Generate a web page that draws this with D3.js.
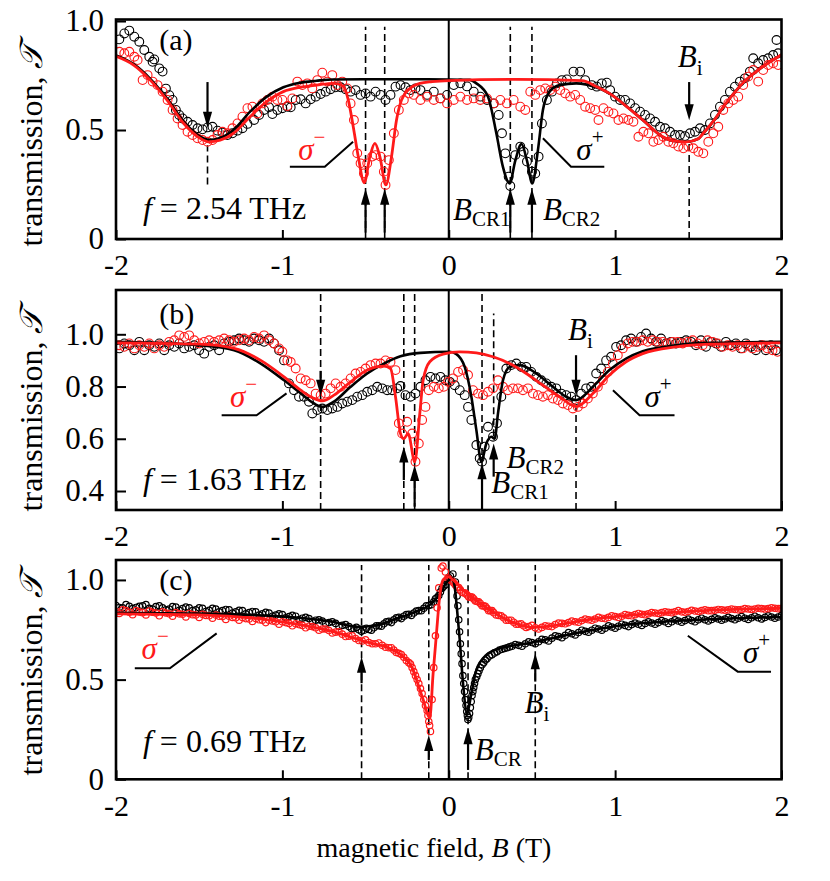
<!DOCTYPE html>
<html><head><meta charset="utf-8">
<script src="https://cdn.jsdelivr.net/npm/d3@7/dist/d3.min.js"></script>
<style>
body{margin:0;background:#fff}
svg text{font-family:"Liberation Serif","Times New Roman",serif;fill:#000}
</style></head><body>
<svg width="830" height="881"></svg>
<script>
// ---------------- data ----------------
const xTicks=[-2,-1,0,1,2];
const yTicksA=[0,0.5,1.0], yTicksB=[0.4,0.6,0.8,1.0], yTicksC=[0,0.5,1.0];
const freqs=["2.54","1.63","0.69"];
const panelLetters=["(a)","(b)","(c)"];

// panel (a): black = sigma+, red = sigma-
const aBlack=[[-1.98,.916],[-1.95,.943],[-1.92,.956],[-1.89,.928],[-1.86,.905],[-1.83,.867],[-1.80,.836],[-1.78,.813],[-1.77,.824],[-1.74,.783],[-1.72,.768],[-1.70,.69],[-1.68,.66],[-1.66,.638],[-1.64,.592],[-1.62,.569],[-1.60,.553],[-1.57,.538],[-1.54,.523],[-1.51,.508],[-1.48,.503],[-1.45,.512],[-1.42,.515],[-1.39,.497],[-1.36,.488],[-1.33,.477],[-1.30,.485],[-1.27,.497],[-1.24,.508],[-1.21,.528],[-1.17,.546],[-1.14,.569],[-1.11,.592],[-1.08,.604],[-1.06,.573],[-1.03,.592],[-1.00,.60],[-0.97,.607],[-0.95,.604],[-0.92,.638],[-0.89,.641],[-0.86,.622],[-0.83,.641],[-0.80,.653],[-0.77,.665],[-0.74,.676],[-0.71,.687],[-0.68,.696],[-0.65,.696],[-0.62,.687],[-0.59,.676],[-0.56,.683],[-0.53,.661],[-0.50,.668],[-0.47,.653],[-0.44,.676],[-0.41,.661],[-0.38,.638],[-0.35,.661],[-0.32,.699],[-0.29,.706],[-0.26,.696],[-0.23,.683],[-0.20,.691],[-0.17,.683],[-0.13,.661],[-0.09,.676],[-0.05,.645],[-0.01,.661],[0.03,.706],[0.07,.714],[0.11,.70],[0.15,.676],[0.19,.653],[0.23,.638],[0.27,.622],[0.30,.569],[0.32,.485],[0.34,.393],[0.36,.286],[0.37,.243],[0.40,.385],[0.43,.424],[0.45,.40],[0.47,.355],[0.50,.309],[0.52,.30],[0.54,.378],[0.56,.53],[0.59,.638],[0.62,.676],[0.65,.714],[0.68,.729],[0.71,.732],[0.75,.768],[0.79,.768],[0.82,.729],[0.86,.706],[0.89,.699],[0.92,.714],[0.95,.717],[0.97,.683],[1.00,.653],[1.03,.638],[1.06,.638],[1.09,.622],[1.12,.60],[1.15,.584],[1.18,.569],[1.21,.553],[1.24,.538],[1.27,.515],[1.30,.508],[1.33,.492],[1.36,.477],[1.39,.477],[1.42,.472],[1.45,.485],[1.48,.492],[1.51,.508],[1.54,.50],[1.57,.53],[1.60,.569],[1.63,.607],[1.66,.638],[1.69,.676],[1.72,.699],[1.75,.722],[1.78,.737],[1.81,.768],[1.83,.829],[1.86,.806],[1.89,.821],[1.92,.829],[1.95,.844],[1.97,.913],[1.98,.852]];
const aRed=[[-1.98,.859],[-1.95,.852],[-1.92,.859],[-1.89,.836],[-1.87,.821],[-1.84,.729],[-1.81,.752],[-1.78,.722],[-1.75,.706],[-1.72,.676],[-1.69,.638],[-1.66,.592],[-1.63,.553],[-1.60,.523],[-1.57,.492],[-1.54,.477],[-1.51,.462],[-1.48,.454],[-1.45,.446],[-1.42,.454],[-1.39,.477],[-1.36,.492],[-1.33,.485],[-1.30,.508],[-1.27,.53],[-1.24,.561],[-1.21,.60],[-1.18,.607],[-1.15,.576],[-1.12,.622],[-1.09,.638],[-1.06,.653],[-1.03,.638],[-1.00,.638],[-0.97,.61],[-0.94,.645],[-0.91,.722],[-0.88,.706],[-0.85,.714],[-0.82,.691],[-0.79,.729],[-0.76,.763],[-0.73,.722],[-0.70,.752],[-0.67,.706],[-0.64,.722],[-0.61,.691],[-0.59,.622],[-0.57,.546],[-0.55,.393],[-0.53,.347],[-0.51,.301],[-0.49,.347],[-0.46,.378],[-0.44,.385],[-0.41,.378],[-0.39,.309],[-0.38,.248],[-0.36,.362],[-0.33,.485],[-0.30,.592],[-0.27,.638],[-0.24,.668],[-0.21,.661],[-0.17,.638],[-0.13,.653],[-0.09,.638],[-0.05,.645],[-0.01,.622],[0.03,.638],[0.07,.653],[0.11,.638],[0.15,.645],[0.19,.638],[0.23,.645],[0.27,.622],[0.31,.638],[0.35,.622],[0.39,.638],[0.43,.607],[0.46,.592],[0.49,.676],[0.52,.661],[0.55,.683],[0.58,.691],[0.61,.683],[0.64,.699],[0.67,.683],[0.70,.668],[0.73,.653],[0.76,.661],[0.79,.638],[0.82,.607],[0.85,.60],[0.88,.592],[0.90,.546],[0.93,.60],[0.96,.584],[0.99,.576],[1.02,.546],[1.05,.553],[1.08,.546],[1.11,.538],[1.14,.469],[1.17,.492],[1.20,.485],[1.23,.446],[1.26,.454],[1.29,.469],[1.32,.446],[1.35,.439],[1.38,.424],[1.41,.416],[1.44,.424],[1.47,.416],[1.50,.40],[1.53,.393],[1.56,.446],[1.59,.485],[1.62,.515],[1.65,.592],[1.68,.622],[1.71,.638],[1.74,.653],[1.77,.706],[1.80,.745],[1.83,.775],[1.86,.722],[1.89,.775],[1.92,.798],[1.95,.806],[1.98,.798]];
const aBlackFit=[[-2,.842],[-1.894,.802],[-1.794,.735],[-1.694,.645],[-1.594,.54],[-1.494,.47],[-1.444,.455],[-1.374,.464],[-1.294,.50],[-1.194,.584],[-1.094,.653],[-0.994,.696],[-0.894,.717],[-0.794,.726],[-0.694,.732],[-0.4,.733],[0,.732],[0.126,.73],[0.166,.714],[0.236,.653],[0.286,.485],[0.326,.33],[0.366,.255],[0.40,.36],[0.437,.436],[0.47,.36],[0.502,.255],[0.536,.408],[0.566,.592],[0.606,.676],[0.666,.706],[0.766,.714],[0.886,.696],[0.966,.668],[1.066,.61],[1.166,.546],[1.286,.469],[1.35,.45],[1.43,.446],[1.5,.46],[1.53,.485],[1.6,.55],[1.666,.622],[1.766,.714],[1.886,.79],[2,.845]];
const aRedFit=[[-2,.838],[-1.894,.798],[-1.794,.729],[-1.694,.638],[-1.594,.531],[-1.494,.462],[-1.444,.446],[-1.374,.454],[-1.294,.485],[-1.194,.561],[-1.094,.63],[-0.994,.676],[-0.894,.696],[-0.794,.706],[-0.694,.714],[-0.634,.702],[-0.604,.638],[-0.574,.515],[-0.544,.378],[-0.508,.258],[-0.474,.378],[-0.444,.439],[-0.414,.378],[-0.378,.248],[-0.344,.378],[-0.314,.546],[-0.284,.638],[-0.234,.691],[-0.174,.714],[-0.1,.722],[0,.727],[0.4,.732],[0.8,.727],[0.886,.70],[0.966,.668],[1.066,.61],[1.166,.546],[1.286,.469],[1.35,.45],[1.43,.446],[1.5,.46],[1.53,.485],[1.6,.55],[1.666,.622],[1.766,.714],[1.886,.79],[2,.845]];

// panel (b)
const bBlack=[[-1.98,.946],[-1.95,.965],[-1.92,.958],[-1.89,.939],[-1.86,.971],[-1.83,.939],[-1.80,.958],[-1.77,.952],[-1.74,.965],[-1.71,.939],[-1.68,.958],[-1.65,.952],[-1.62,.965],[-1.59,.946],[-1.56,.952],[-1.53,.958],[-1.50,.939],[-1.47,.926],[-1.44,.952],[-1.41,.958],[-1.38,.939],[-1.35,.965],[-1.32,.971],[-1.29,.977],[-1.26,.984],[-1.23,.977],[-1.20,.971],[-1.17,.984],[-1.14,.977],[-1.11,.971],[-1.08,.984],[-1.05,.965],[-1.02,.939],[-0.99,.90],[-0.96,.812],[-0.93,.786],[-0.90,.761],[-0.87,.761],[-0.84,.742],[-0.82,.697],[-0.79,.71],[-0.76,.716],[-0.73,.71],[-0.70,.716],[-0.67,.722],[-0.64,.735],[-0.61,.742],[-0.58,.748],[-0.55,.761],[-0.52,.767],[-0.49,.78],[-0.46,.786],[-0.43,.799],[-0.40,.793],[-0.37,.786],[-0.34,.786],[-0.31,.793],[-0.29,.802],[-0.26,.767],[-0.23,.761],[-0.20,.773],[-0.17,.799],[-0.14,.824],[-0.11,.837],[-0.08,.831],[-0.05,.837],[-0.02,.824],[0.006,.818],[0.036,.805],[0.066,.786],[0.096,.767],[0.116,.722],[0.136,.672],[0.166,.576],[0.186,.525],[0.20,.512],[0.216,.57],[0.236,.646],[0.266,.608],[0.29,.659],[0.316,.761],[0.346,.869],[0.376,.882],[0.406,.888],[0.436,.875],[0.466,.875],[0.496,.856],[0.526,.837],[0.556,.824],[0.586,.812],[0.616,.799],[0.646,.793],[0.676,.773],[0.706,.767],[0.736,.761],[0.766,.748],[0.796,.773],[0.826,.793],[0.856,.799],[0.886,.85],[0.916,.869],[0.946,.90],[0.976,.914],[1.006,.952],[1.036,.958],[1.066,.977],[1.096,.984],[1.126,.971],[1.156,.99],[1.186,1.003],[1.216,.984],[1.246,.971],[1.276,.984],[1.306,.965],[1.336,.971],[1.366,.965],[1.396,.971],[1.426,.977],[1.456,.971],[1.486,.958],[1.516,.977],[1.546,.952],[1.576,.971],[1.606,.965],[1.636,.952],[1.666,.971],[1.696,.958],[1.726,.965],[1.756,.946],[1.786,.965],[1.816,.952],[1.846,.939],[1.876,.958],[1.906,.939],[1.936,.958],[1.966,.939]];
const bRed=[[-1.98,.958],[-1.95,.952],[-1.92,.965],[-1.89,.946],[-1.86,.958],[-1.83,.952],[-1.80,.965],[-1.77,.946],[-1.74,.958],[-1.71,.952],[-1.68,.971],[-1.65,.977],[-1.62,.996],[-1.59,.99],[-1.56,.996],[-1.53,.977],[-1.50,.965],[-1.47,.971],[-1.44,.977],[-1.41,.971],[-1.38,.977],[-1.35,.984],[-1.32,.977],[-1.29,.971],[-1.26,.977],[-1.23,.984],[-1.20,.977],[-1.17,.99],[-1.14,.984],[-1.11,.996],[-1.08,.977],[-1.05,.965],[-1.02,.946],[-1.00,.933],[-0.97,.90],[-0.95,.894],[-0.92,.869],[-0.89,.831],[-0.86,.824],[-0.83,.812],[-0.80,.773],[-0.77,.767],[-0.74,.773],[-0.71,.793],[-0.68,.812],[-0.65,.799],[-0.62,.812],[-0.59,.831],[-0.56,.85],[-0.53,.856],[-0.50,.869],[-0.47,.882],[-0.44,.888],[-0.41,.888],[-0.38,.90],[-0.35,.894],[-0.32,.863],[-0.30,.659],[-0.28,.62],[-0.25,.665],[-0.22,.62],[-0.20,.512],[-0.18,.582],[-0.16,.672],[-0.14,.722],[-0.12,.786],[-0.09,.799],[-0.06,.793],[-0.03,.799],[-0.004,.818],[0.026,.831],[0.056,.856],[0.086,.863],[0.116,.844],[0.146,.786],[0.176,.773],[0.206,.767],[0.236,.78],[0.266,.793],[0.296,.824],[0.326,.799],[0.356,.786],[0.386,.793],[0.416,.793],[0.446,.786],[0.476,.793],[0.506,.773],[0.536,.767],[0.566,.761],[0.596,.767],[0.626,.754],[0.656,.748],[0.686,.735],[0.716,.729],[0.746,.716],[0.776,.722],[0.806,.735],[0.836,.754],[0.866,.773],[0.896,.799],[0.926,.824],[0.956,.856],[0.986,.888],[1.016,.92],[1.046,.946],[1.076,.965],[1.106,.971],[1.136,.971],[1.166,.977],[1.196,.971],[1.226,.977],[1.256,.971],[1.286,.971],[1.316,.965],[1.346,.971],[1.376,.971],[1.406,.965],[1.436,.971],[1.466,.977],[1.496,.965],[1.526,.958],[1.556,.977],[1.586,.971],[1.616,.965],[1.646,.952],[1.676,.958],[1.706,.952],[1.736,.958],[1.766,.946],[1.796,.958],[1.826,.946],[1.856,.952],[1.886,.958],[1.916,.946],[1.946,.939],[1.976,.933]];
const bBlackFit=[[-2,.971],[-1.5,.958],[-1.29,.939],[-1.13,.888],[-0.99,.824],[-0.89,.774],[-0.81,.735],[-0.76,.722],[-0.69,.742],[-0.59,.799],[-0.49,.85],[-0.39,.888],[-0.29,.916],[-0.17,.929],[0.006,.933],[0.046,.924],[0.096,.875],[0.136,.761],[0.166,.633],[0.196,.512],[0.226,.582],[0.256,.608],[0.276,.60],[0.296,.697],[0.326,.824],[0.366,.875],[0.426,.882],[0.526,.85],[0.626,.799],[0.706,.761],[0.766,.748],[0.866,.799],[0.966,.863],[1.066,.907],[1.166,.935],[1.366,.958],[1.566,.967],[2,.971]];
const bRedFit=[[-2,.967],[-1.5,.962],[-1.29,.946],[-1.13,.90],[-0.99,.837],[-0.89,.786],[-0.81,.754],[-0.76,.745],[-0.69,.767],[-0.59,.818],[-0.49,.863],[-0.39,.878],[-0.35,.869],[-0.32,.761],[-0.29,.62],[-0.27,.60],[-0.244,.62],[-0.204,.512],[-0.174,.697],[-0.154,.824],[-0.114,.895],[-0.034,.924],[0.066,.933],[0.166,.929],[0.266,.914],[0.366,.888],[0.466,.85],[0.566,.805],[0.666,.761],[0.766,.723],[0.866,.773],[0.966,.844],[1.066,.895],[1.166,.926],[1.366,.952],[1.566,.962],[2,.967]];

// panel (c): two passes of readings along the dense bands
const cBlack=[[-2.00,.872],[-1.96,.860],[-1.92,.868],[-1.88,.862],[-1.84,.870],[-1.80,.858],[-1.76,.866],[-1.72,.860],[-1.68,.854],[-1.64,.864],[-1.60,.856],[-1.56,.860],[-1.52,.850],[-1.48,.858],[-1.44,.848],[-1.40,.854],[-1.36,.846],[-1.32,.850],[-1.28,.840],[-1.24,.846],[-1.20,.836],[-1.16,.840],[-1.12,.830],[-1.08,.834],[-1.04,.824],[-1.00,.826],[-0.96,.816],[-0.92,.818],[-0.88,.808],[-0.84,.806],[-0.80,.798],[-0.76,.794],[-0.72,.786],[-0.68,.782],[-0.64,.772],[-0.60,.766],[-0.57,.756],[-0.54,.750],[-0.51,.748],[-0.48,.752],[-0.45,.760],[-0.42,.770],[-0.39,.780],[-0.36,.792],[-0.33,.800],[-0.30,.812],[-0.27,.818],[-0.24,.828],[-0.21,.834],[-0.18,.846],[-0.15,.858],[-0.12,.872],[-0.09,.890],[-0.07,.912],[-0.05,.940],[-0.03,.968],[-0.01,.995],[0.01,1.02],[0.025,1.03],[0.04,.99],[0.05,.92],[0.06,.80],[0.07,.68],[0.08,.58],[0.09,.48],[0.10,.40],[0.108,.34],[0.115,.30],[0.12,.31],[0.13,.36],[0.14,.42],[0.15,.46],[0.16,.50],[0.175,.53],[0.19,.56],[0.21,.585],[0.23,.605],[0.26,.625],[0.29,.64],[0.32,.652],[0.35,.66],[0.38,.668],[0.42,.672],[0.46,.680],[0.50,.686],[0.54,.690],[0.58,.700],[0.62,.708],[0.66,.716],[0.70,.722],[0.74,.730],[0.78,.736],[0.82,.742],[0.86,.748],[0.90,.754],[0.94,.758],[0.98,.764],[1.02,.768],[1.06,.772],[1.10,.776],[1.14,.778],[1.18,.782],[1.22,.784],[1.26,.786],[1.30,.790],[1.34,.790],[1.38,.794],[1.42,.796],[1.46,.796],[1.50,.800],[1.54,.800],[1.58,.802],[1.62,.804],[1.66,.804],[1.70,.806],[1.74,.808],[1.78,.808],[1.82,.810],[1.86,.810],[1.90,.812],[1.94,.814],[1.98,.814]];
const cBlack2=[[-1.98,.862],[-1.94,.876],[-1.90,.856],[-1.86,.868],[-1.82,.876],[-1.78,.854],[-1.74,.870],[-1.70,.850],[-1.66,.866],[-1.62,.848],[-1.58,.864],[-1.54,.846],[-1.50,.860],[-1.46,.842],[-1.42,.858],[-1.38,.840],[-1.34,.852],[-1.30,.834],[-1.26,.848],[-1.22,.830],[-1.18,.842],[-1.14,.824],[-1.10,.838],[-1.06,.818],[-1.02,.830],[-0.98,.810],[-0.94,.822],[-0.90,.800],[-0.86,.812],[-0.82,.790],[-0.78,.800],[-0.74,.780],[-0.70,.790],[-0.66,.768],[-0.62,.776],[-0.585,.756],[-0.555,.762],[-0.525,.742],[-0.495,.758],[-0.465,.748],[-0.435,.770],[-0.405,.768],[-0.375,.790],[-0.345,.786],[-0.315,.810],[-0.285,.806],[-0.255,.826],[-0.225,.822],[-0.195,.844],[-0.165,.846],[-0.135,.870],[-0.105,.876],[-0.08,.906],[-0.06,.922],[-0.04,.958],[-0.02,.976],[0.0,1.012],[0.055,.87],[0.065,.74],[0.075,.63],[0.085,.52],[0.095,.44],[0.104,.37],[0.112,.32],[0.125,.33],[0.135,.39],[0.145,.44],[0.155,.48],[0.168,.515],[0.182,.545],[0.20,.575],[0.22,.598],[0.245,.618],[0.275,.634],[0.305,.648],[0.335,.656],[0.365,.664],[0.40,.676],[0.44,.668],[0.48,.690],[0.52,.680],[0.56,.702],[0.60,.694],[0.64,.720],[0.68,.710],[0.72,.736],[0.76,.724],[0.80,.748],[0.84,.738],[0.88,.758],[0.92,.748],[0.96,.770],[1.00,.758],[1.04,.778],[1.08,.766],[1.12,.784],[1.16,.772],[1.20,.790],[1.24,.778],[1.28,.796],[1.32,.782],[1.36,.800],[1.40,.788],[1.44,.804],[1.48,.790],[1.52,.808],[1.56,.794],[1.60,.810],[1.64,.798],[1.68,.812],[1.72,.800],[1.76,.816],[1.80,.802],[1.84,.818],[1.88,.804],[1.92,.820],[1.96,.808],[2.00,.822]];
const cRed=[[-2.00,.842],[-1.96,.850],[-1.92,.838],[-1.88,.846],[-1.84,.836],[-1.80,.844],[-1.76,.834],[-1.72,.840],[-1.68,.830],[-1.64,.836],[-1.60,.828],[-1.56,.832],[-1.52,.824],[-1.48,.828],[-1.44,.820],[-1.40,.824],[-1.36,.816],[-1.32,.818],[-1.28,.810],[-1.24,.812],[-1.20,.804],[-1.16,.806],[-1.12,.798],[-1.08,.798],[-1.04,.790],[-1.00,.790],[-0.96,.782],[-0.92,.780],[-0.88,.772],[-0.84,.768],[-0.80,.760],[-0.76,.754],[-0.72,.746],[-0.68,.738],[-0.64,.728],[-0.60,.718],[-0.56,.706],[-0.52,.694],[-0.48,.686],[-0.44,.680],[-0.40,.672],[-0.36,.660],[-0.33,.648],[-0.30,.632],[-0.27,.612],[-0.24,.585],[-0.22,.56],[-0.20,.52],[-0.18,.48],[-0.16,.43],[-0.14,.37],[-0.125,.32],[-0.115,.27],[-0.11,.24],[-0.10,.40],[-0.09,.56],[-0.08,.72],[-0.07,.86],[-0.06,.96],[-0.045,1.06],[-0.035,1.07],[-0.02,1.04],[-0.005,1.01],[0.01,1.0],[0.03,.985],[0.05,.965],[0.07,.95],[0.09,.935],[0.11,.925],[0.13,.915],[0.15,.905],[0.17,.892],[0.19,.882],[0.21,.870],[0.23,.858],[0.25,.846],[0.27,.836],[0.30,.822],[0.33,.810],[0.36,.798],[0.39,.788],[0.42,.778],[0.45,.770],[0.48,.766],[0.52,.760],[0.56,.762],[0.60,.768],[0.64,.776],[0.68,.782],[0.72,.786],[0.76,.790],[0.80,.796],[0.84,.800],[0.88,.804],[0.92,.808],[0.96,.812],[1.00,.816],[1.04,.818],[1.08,.822],[1.12,.826],[1.16,.828],[1.20,.830],[1.24,.834],[1.28,.836],[1.32,.838],[1.36,.840],[1.40,.840],[1.44,.842],[1.48,.844],[1.52,.846],[1.56,.846],[1.60,.848],[1.64,.850],[1.68,.850],[1.72,.852],[1.76,.852],[1.80,.854],[1.84,.854],[1.88,.856],[1.92,.856],[1.96,.858],[2.00,.858]];
const cRed2=[[-1.98,.832],[-1.94,.846],[-1.90,.826],[-1.86,.840],[-1.82,.824],[-1.78,.838],[-1.74,.820],[-1.70,.834],[-1.66,.818],[-1.62,.830],[-1.58,.814],[-1.54,.826],[-1.50,.812],[-1.46,.822],[-1.42,.808],[-1.38,.818],[-1.34,.802],[-1.30,.812],[-1.26,.798],[-1.22,.806],[-1.18,.792],[-1.14,.800],[-1.10,.786],[-1.06,.794],[-1.02,.778],[-0.98,.786],[-0.94,.770],[-0.90,.776],[-0.86,.760],[-0.82,.766],[-0.78,.748],[-0.74,.754],[-0.70,.734],[-0.66,.740],[-0.62,.716],[-0.58,.720],[-0.54,.696],[-0.50,.700],[-0.46,.680],[-0.42,.684],[-0.38,.662],[-0.345,.660],[-0.315,.636],[-0.285,.626],[-0.255,.596],[-0.23,.578],[-0.21,.540],[-0.19,.50],[-0.17,.455],[-0.15,.40],[-0.13,.345],[-0.12,.29],[0.02,.995],[0.04,.975],[0.06,.962],[0.08,.938],[0.10,.934],[0.12,.914],[0.14,.914],[0.16,.894],[0.18,.890],[0.20,.870],[0.22,.868],[0.24,.846],[0.26,.846],[0.285,.824],[0.315,.820],[0.345,.798],[0.375,.798],[0.405,.778],[0.435,.780],[0.465,.762],[0.50,.772],[0.54,.754],[0.58,.770],[0.62,.766],[0.66,.784],[0.70,.780],[0.74,.794],[0.78,.788],[0.82,.804],[0.86,.798],[0.90,.812],[0.94,.806],[0.98,.820],[1.02,.812],[1.06,.826],[1.10,.820],[1.14,.832],[1.18,.826],[1.22,.836],[1.26,.832],[1.30,.840],[1.34,.836],[1.38,.846],[1.42,.838],[1.46,.848],[1.50,.842],[1.54,.850],[1.58,.846],[1.62,.852],[1.66,.848],[1.70,.854],[1.74,.850],[1.78,.856],[1.82,.852],[1.86,.858],[1.90,.854],[1.94,.860],[1.98,.856]];
const cBlackFit=[[-2,.835],[-1.6,.832],[-1.2,.825],[-0.9,.81],[-0.7,.79],[-0.55,.765],[-0.45,.77],[-0.3,.81],[-0.2,.84],[-0.1,.885],[-0.05,.935],[-0.02,.98],[0.0,1.0],[0.02,1.01],[0.035,.97],[0.05,.85],[0.066,.70],[0.086,.48],[0.11,.33],[0.136,.43],[0.166,.548],[0.226,.624],[0.306,.657],[0.4,.672],[0.5,.686],[0.7,.722],[1.0,.768],[1.5,.80],[2,.814]];
const cRedFit=[[-2,.83],[-1.5,.825],[-1.0,.79],[-0.7,.742],[-0.5,.69],[-0.35,.655],[-0.27,.612],[-0.22,.56],[-0.194,.50],[-0.154,.40],[-0.114,.31],[-0.094,.53],[-0.074,.73],[-0.054,.92],[-0.034,1.0],[-0.004,1.017],[0.026,1.0],[0.086,.95],[0.2,.876],[0.3,.822],[0.4,.782],[0.5,.762],[0.6,.768],[0.8,.796],[1.0,.816],[1.5,.845],[2,.858]];

// annotations (data units): dashed [B, T1, T2]; arrows [B, Tfrom, Ttip]; leaders polylines
const aDashes=[[-1.45,.25,.43],[-0.50,0,.974],[-0.385,0,.974],[0.37,0,.974],[0.50,0,.974],[1.445,0,.44]];
const aArrows=[[-1.45,.72,.51],[-0.50,.03,.23],[-0.385,.03,.23],[0.37,.03,.23],[0.50,.03,.23],[1.445,.72,.545]];
const aLeaders=[[[-0.575,.446],[-0.745,.332],[-0.955,.332]],[[0.566,.462],[0.735,.332],[0.935,.332]]];
const bDashes=[[-0.77,.327,1.16],[-0.27,.327,1.16],[-0.205,.327,1.16],[0.20,.327,1.16],[0.27,.61,1.08],[0.765,.327,.72]];
const bArrows=[[-0.77,.86,.765],[-0.27,.442,.57],[-0.205,.34,.50],[0.20,.33,.506],[0.27,.455,.582],[0.765,.92,.765]];
const bLeaders=[[[-0.975,.774],[-1.155,.69],[-1.365,.69]],[[0.987,.786],[1.147,.69],[1.357,.69]]];
const cDashes=[[-0.524,0,1.075],[-0.12,0,1.075],[0.116,0,1.075],[0.52,0,1.075]];
const cArrows=[[-0.524,.482,.615],[-0.12,.097,.222],[0.116,.047,.256],[0.52,.49,.632]];
const cLeaders=[[[-1.395,.732],[-1.676,.557],[-1.887,.557]],[[1.437,.72],[1.737,.54],[1.937,.54]]];

// text labels: [kind, B, T, sub/sign]
const aTexts=[["B",1.377,.79,"i"],["B",0.026,.087,"CR1"],["B",0.566,.087,"CR2"],["s",-0.905,.362,"\u2212"],["s",0.767,.362,"+"]];
const bTexts=[["B",0.717,.977,"i"],["B",0.347,.487,"CR2"],["B",0.256,.391,"CR1"],["s",-1.315,.722,"\u2212"],["s",1.177,.722,"+"]];
const cTexts=[["B",0.456,.331,"i"],["B",0.156,.097,"CR"],["s",-1.846,.602,"\u2212"],["s",1.768,.582,"+"]];

// ---------------- drawing ----------------
const RED="#ff1a1a";
const svg=d3.select("svg");
const X0=116,X1=781.5;
const x=d3.scaleLinear().domain([-2,2]).range([X0,X1]);

const panels=[
 {key:"a",top:19.5,bottom:239,domain:[0,1.007],yt:yTicksA,black:aBlack,red:aRed,bf:aBlackFit,rf:aRedFit,dashes:aDashes,arrows:aArrows,leaders:aLeaders,texts:aTexts,r:4.4,sw:1.1,lab:[-1.74,.867],fpos:[-1.838,.092],ty:145},
 {key:"b",top:290,bottom:510,domain:[0.3273,1.1696],yt:yTicksB,black:bBlack,red:bRed,bf:bBlackFit,rf:bRedFit,dashes:bDashes,arrows:bArrows,leaders:bLeaders,texts:bTexts,r:4.4,sw:1.1,lab:[-1.74,1.041],fpos:[-1.838,.404],ty:410},
 {key:"c",top:560,bottom:779.3,domain:[0,1.1],yt:yTicksC,black:cBlack.concat(cBlack2),red:cRed.concat(cRed2),bf:cBlackFit,rf:cRedFit,dashes:cDashes,arrows:cArrows,leaders:cLeaders,texts:cTexts,r:3.2,sw:1.2,lab:[-1.74,.95],fpos:[-1.838,.138],ty:674}
];

panels.forEach((p,i)=>{
  const y=d3.scaleLinear().domain(p.domain).range([p.bottom,p.top]);
  const g=svg.append("g");
  const cid="clip"+p.key;
  svg.append("clipPath").attr("id",cid).append("rect")
    .attr("x",X0).attr("y",p.top).attr("width",X1-X0).attr("height",p.bottom-p.top);
  const inner=g.append("g").attr("clip-path",`url(#${cid})`);

  inner.selectAll("line.dash").data(p.dashes).join("line").attr("class","dash")
    .attr("x1",d=>x(d[0])).attr("x2",d=>x(d[0]))
    .attr("y1",d=>y(d[1])).attr("y2",d=>y(d[2]))
    .attr("stroke","#000").attr("stroke-width",1.6).attr("stroke-dasharray","7,4");
  inner.append("line").attr("x1",x(0)).attr("x2",x(0)).attr("y1",p.top).attr("y2",p.bottom)
    .attr("stroke","#000").attr("stroke-width",2);

  inner.append("g").selectAll("circle").data(p.black).join("circle")
    .attr("cx",d=>x(d[0])).attr("cy",d=>y(d[1])).attr("r",p.r)
    .attr("fill","none").attr("stroke","#000").attr("stroke-width",p.sw);
  inner.append("g").selectAll("circle").data(p.red).join("circle")
    .attr("cx",d=>x(d[0])).attr("cy",d=>y(d[1])).attr("r",p.r)
    .attr("fill","none").attr("stroke",RED).attr("stroke-width",p.sw);

  const line=d3.line().x(d=>x(d[0])).y(d=>y(d[1])).curve(d3.curveMonotoneX);
  inner.append("path").attr("d",line(p.bf)).attr("fill","none").attr("stroke","#000").attr("stroke-width",2.6);
  inner.append("path").attr("d",line(p.rf)).attr("fill","none").attr("stroke",RED).attr("stroke-width",2.8);

  p.arrows.forEach(a=>{
    const ax=x(a[0]), y0=y(a[1]), yt=y(a[2]);
    const dir=Math.sign(yt-y0); const hl=16, hw=4.6;
    g.append("line").attr("x1",ax).attr("x2",ax).attr("y1",y0).attr("y2",yt-dir*hl*0.8)
      .attr("stroke","#000").attr("stroke-width",2.2);
    g.append("path").attr("d",`M${ax},${yt} L${ax-hw},${yt-dir*hl} L${ax+hw},${yt-dir*hl} Z`).attr("fill","#000");
  });
  p.leaders.forEach(l=>{
    g.append("path").attr("d",d3.line().x(d=>x(d[0])).y(d=>y(d[1]))(l))
      .attr("fill","none").attr("stroke","#000").attr("stroke-width",2);
  });

  const ya=d3.axisLeft(y).tickValues(p.yt).tickSizeInner(-10).tickSizeOuter(0).tickPadding(12)
    .tickFormat(d=>d===0?"0":d3.format(".1f")(d));
  const yg=g.append("g").attr("transform",`translate(${X0},0)`).call(ya);
  yg.select(".domain").remove();
  yg.selectAll("line").attr("stroke","#000").attr("stroke-width",2);
  yg.selectAll("text").style("font-size","31px").attr("font-family",null);

  const xa=d3.axisBottom(x).tickValues(xTicks).tickSizeInner(-9).tickSizeOuter(0).tickPadding(15)
    .tickFormat(d=>String(d));
  const xg=g.append("g").attr("transform",`translate(0,${p.bottom})`).call(xa);
  xg.select(".domain").remove();
  xg.selectAll("line").attr("stroke","#000").attr("stroke-width",2);
  xg.selectAll("text").style("font-size","30px").attr("font-family",null);

  g.append("rect").attr("x",X0).attr("y",p.top).attr("width",X1-X0).attr("height",p.bottom-p.top)
    .attr("fill","none").attr("stroke","#000").attr("stroke-width",2.6);

  g.append("text").attr("x",x(p.lab[0])).attr("y",y(p.lab[1])).style("font-size","30px").text(panelLetters[i]);
  const ft=g.append("text").attr("x",x(p.fpos[0])).attr("y",y(p.fpos[1])).style("font-size","32px");
  ft.append("tspan").style("font-style","italic").text("f");
  ft.append("tspan").text(" = "+freqs[i]+" THz");

  p.texts.forEach(t=>{
    const tx=g.append("text").attr("x",x(t[1])).attr("y",y(t[2])).style("font-size","31px");
    if(t[0]==="B"){
      tx.append("tspan").style("font-style","italic").text("B");
      tx.append("tspan").attr("dy",t[3]==="i"?8:6).style("font-size","21px").text(t[3]);
    } else {
      const col=t[3]==="+"?"#000":RED;
      tx.style("fill",col);
      tx.append("tspan").style("font-style","italic").style("fill",col).text("\u03C3");
      tx.append("tspan").attr("dy",-16).style("font-size","21px").style("fill",col).text(t[3]);
    }
  });

  const yt=g.append("text").attr("transform",`translate(42,${p.ty}) rotate(-90)`)
    .attr("text-anchor","middle").style("font-size","32px");
  yt.append("tspan").text("transmission, ");
  yt.append("tspan").style("font-style","italic").text("\u{1D4AF}");
});

const xt=svg.append("text").attr("x",434).attr("y",857).attr("text-anchor","middle").style("font-size","28px");
xt.append("tspan").text("magnetic field, ");
xt.append("tspan").style("font-style","italic").text("B");
xt.append("tspan").text(" (T)");
</script>
</body></html>
